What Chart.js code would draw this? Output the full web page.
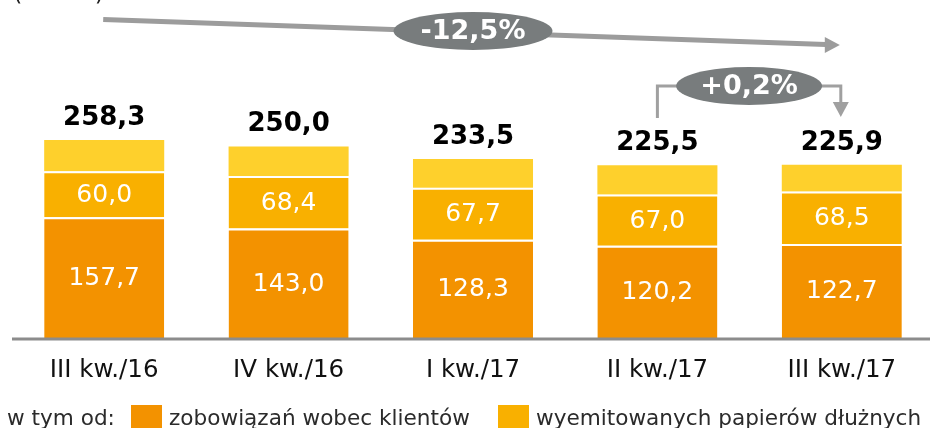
<!DOCTYPE html>
<html>
<head>
<meta charset="utf-8">
<script src="https://cdn.jsdelivr.net/npm/chart.js@4.4.1/dist/chart.umd.min.js"></script>
<style>
  html, body { margin: 0; padding: 0; overflow: hidden; background: #fff; }
  #outer { width: 930px; height: 428px; overflow: hidden; }
  #wrap { width: 936px; height: 428px; position: relative; }
</style>
</head>
<body>
<div id="outer"><div id="wrap"><canvas id="chart"></canvas></div></div>
<script>
const labels = ['III kw./16', 'IV kw./16', 'I kw./17', 'II kw./17', 'III kw./17'];
const totals = [258.3, 250.0, 233.5, 225.5, 225.9];
const klienci = [157.7, 143.0, 128.3, 120.2, 122.7];
const papiery = [60.0, 68.4, 67.7, 67.0, 68.5];
const pozostale = [40.6, 38.6, 37.5, 38.3, 34.7];
const seriesNames = ['zobowiązań wobec klientów', 'wyemitowanych papierów dłużnych'];
const changeYoY = '-12,5%';
const changeQoQ = '+0,2%';

const COLORS = ['#F39200', '#F9B000', '#FED02C'];
const GREY_LINE = '#9c9c9c';
const GREY_PILL = '#787c7d';
const FONT = "'DejaVu Sans', Verdana, sans-serif";

const fmt = v => v.toFixed(1).replace('.', ',');

function arrowHead(ctx, tipX, tipY, dir, len, half) {
  ctx.beginPath();
  if (dir === 'right') {
    ctx.moveTo(tipX, tipY);
    ctx.lineTo(tipX - len, tipY - half);
    ctx.lineTo(tipX - len, tipY + half);
  } else {
    ctx.moveTo(tipX, tipY);
    ctx.lineTo(tipX - half, tipY - len);
    ctx.lineTo(tipX + half, tipY - len);
  }
  ctx.closePath();
  ctx.fill();
}

function pill(ctx, cx, cy, rx, ry, text, size) {
  ctx.fillStyle = GREY_PILL;
  ctx.beginPath();
  ctx.ellipse(cx, cy, rx, ry, 0, 0, Math.PI * 2);
  ctx.fill();
  ctx.fillStyle = '#fff';
  ctx.font = `bold ${size}px ${FONT}`;
  ctx.textAlign = 'center';
  ctx.textBaseline = 'middle';
  ctx.fillText(text, cx, cy + 1);
}

const overlay = {
  id: 'overlay',
  afterDatasetsDraw(chart) {
    const { ctx, scales: { x, y } } = chart;
    const base = y.getPixelForValue(0);
    ctx.save();

    // axis line
    ctx.strokeStyle = '#8c8c8c';
    ctx.lineWidth = 3;
    ctx.beginPath();
    ctx.moveTo(12, base + 1);
    ctx.lineTo(936, base + 1);
    ctx.stroke();

    // segment values
    ctx.fillStyle = '#fff';
    ctx.font = `25px ${FONT}`;
    ctx.textAlign = 'center';
    ctx.textBaseline = 'middle';
    [0, 1].forEach(di => {
      const meta = chart.getDatasetMeta(di);
      const data = chart.data.datasets[di].data;
      meta.data.forEach((bar, i) => {
        ctx.fillText(fmt(data[i]), bar.x, (bar.y + bar.base) / 2 + 1);
      });
    });

    // totals
    ctx.fillStyle = '#000';
    ctx.font = `bold 26px ${FONT}`;
    chart.getDatasetMeta(2).data.forEach((bar, i) => {
      ctx.fillText(fmt(totals[i]), bar.x, bar.y - 22);
    });

    // category labels
    ctx.fillStyle = '#111';
    ctx.font = `24.5px ${FONT}`;
    ctx.textBaseline = 'alphabetic';
    labels.forEach((l, i) => ctx.fillText(l, x.getPixelForValue(i), 377));

    // legend
    ctx.textAlign = 'left';
    ctx.font = `21.6px ${FONT}`;
    ctx.fillStyle = '#2b2b2b';
    ctx.fillText('w tym od:', 7, 425);
    const legendX = [131, 498];
    seriesNames.forEach((name, i) => {
      ctx.fillStyle = COLORS[i];
      ctx.fillRect(legendX[i], 405, 31, 31);
      ctx.fillStyle = '#2b2b2b';
      ctx.fillText(name, legendX[i] + 38, 425);
    });

    // unit caption, cut off at the top
    ctx.fillStyle = '#222';
    ctx.font = `24px ${FONT}`;
    ctx.fillText('(mln zł)', 13, 0);

    // long trend arrow
    const x0 = x.getPixelForValue(0) - 1;
    const x4 = x.getPixelForValue(4) - 2;
    ctx.strokeStyle = GREY_LINE;
    ctx.fillStyle = GREY_LINE;
    ctx.lineWidth = 5;
    ctx.beginPath();
    ctx.moveTo(x0, 19.5);
    ctx.lineTo(x4 - 14, 44.5);
    ctx.stroke();
    arrowHead(ctx, x4, 45, 'right', 15, 8);
    pill(ctx, x.getPixelForValue(2), 31, 79.5, 19, changeYoY, 27);

    // quarter bracket
    const b3 = x.getPixelForValue(3);
    const b4 = x.getPixelForValue(4) - 1;
    const mid = (b3 + b4) / 2;
    ctx.strokeStyle = '#a0a0a0';
    ctx.fillStyle = '#a0a0a0';
    ctx.lineWidth = 3;
    ctx.beginPath();
    ctx.moveTo(b3, 118);
    ctx.lineTo(b3, 86);
    ctx.lineTo(mid - 60, 86);
    ctx.moveTo(mid + 60, 86);
    ctx.lineTo(b4, 86);
    ctx.lineTo(b4, 104);
    ctx.stroke();
    arrowHead(ctx, b4, 117, 'down', 15, 8);
    pill(ctx, mid, 86, 73, 19, changeQoQ, 27);

    ctx.restore();
  }
};

const topBorder = { top: 2, right: 0, bottom: 0, left: 0 };

new Chart(document.getElementById('chart').getContext('2d'), {
  type: 'bar',
  data: {
    labels,
    datasets: [
      { label: seriesNames[0], data: klienci, backgroundColor: COLORS[0], borderColor: '#fff', borderWidth: topBorder, borderSkipped: false },
      { label: seriesNames[1], data: papiery, backgroundColor: COLORS[1], borderColor: '#fff', borderWidth: topBorder, borderSkipped: false },
      { label: 'pozostałe', data: pozostale, backgroundColor: COLORS[2], borderWidth: 0 },
    ],
  },
  options: {
    responsive: true,
    maintainAspectRatio: false,
    animation: false,
    layout: { padding: { left: 12, right: 2, top: 0, bottom: 90 } },
    datasets: { bar: { barPercentage: 0.651, categoryPercentage: 1 } },
    plugins: { legend: { display: false }, tooltip: { enabled: false } },
    scales: {
      x: { display: false, stacked: true },
      y: { display: false, stacked: true, min: 0, max: 441 },
    },
  },
  plugins: [overlay],
});
</script>
</body>
</html>
